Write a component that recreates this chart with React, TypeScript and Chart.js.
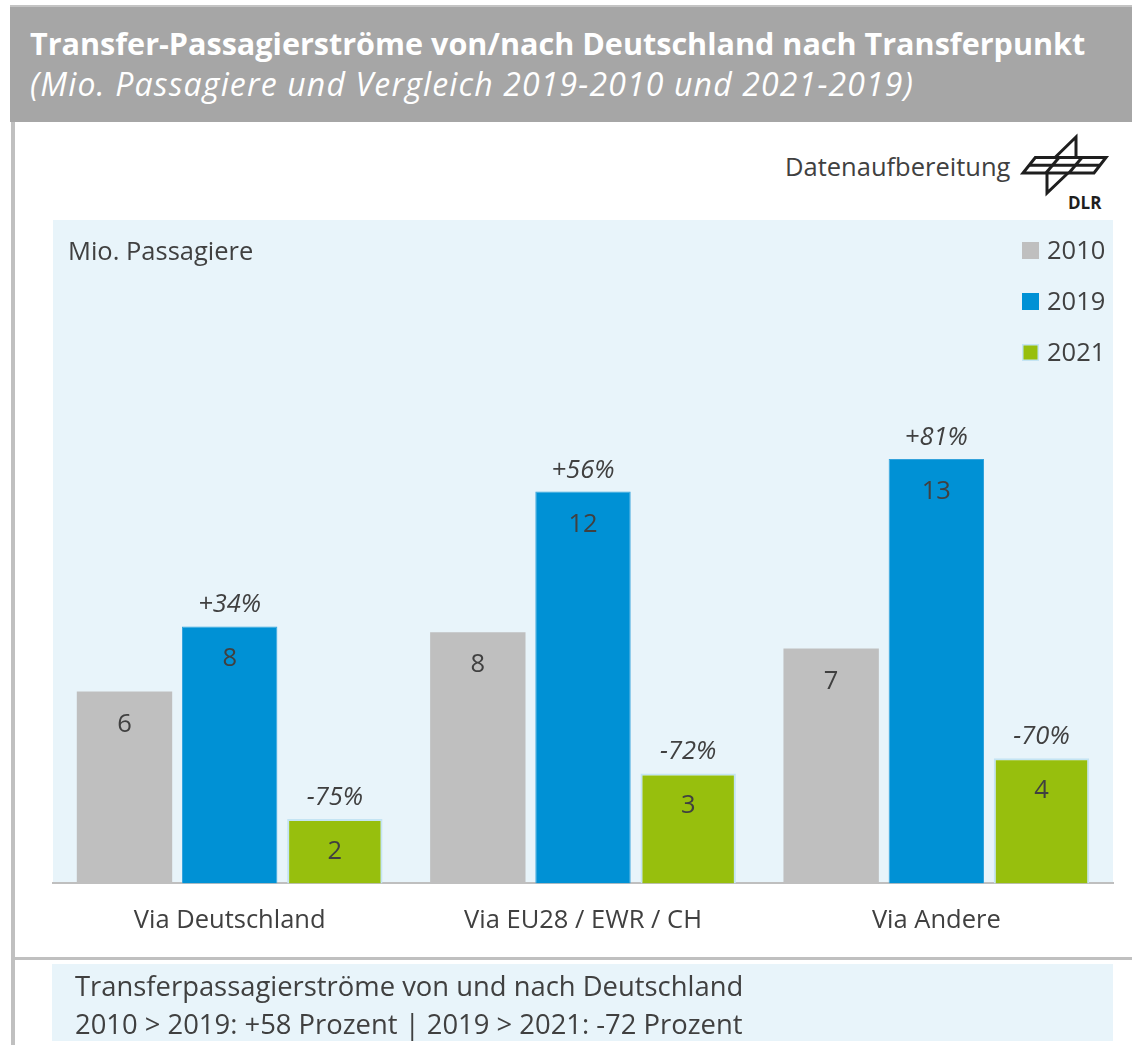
import React, { useEffect, useRef } from "react";
import { Chart, registerables } from "chart.js";

Chart.register(...registerables);

// ---- data ----
const categories = ["Via Deutschland", "Via EU28 / EWR / CH", "Via Andere"];
const seriesLabels = ["2010", "2019", "2021"];
const values2010 = [5.9, 7.72, 7.22];
const values2019 = [7.9, 12.05, 13.05];
const values2021 = [1.98, 3.38, 3.85];
const change2019vs2010 = ["+34%", "+56%", "+81%"];
const change2021vs2019 = ["-75%", "-72%", "-70%"];
const yAxisMax = 20.4;

const titleText = "Transfer-Passagierströme von/nach Deutschland nach Transferpunkt";
const subtitleText = "(Mio. Passagiere und Vergleich 2019-2010 und 2021-2019)";
const sourceText = "Datenaufbereitung";
const unitText = "Mio. Passagiere";
const footerLines = [
  "Transferpassagierströme von und nach Deutschland",
  "2010 > 2019: +58 Prozent | 2019 > 2021: -72 Prozent",
];

// ---- styles ----
const FONT = "'Open Sans', 'DejaVu Sans', sans-serif";
const TEXT = "#404040";
const PLOT_BG = "#E8F4FA";
const COLORS = ["#BFBFBF", "#0091D5", "#97BF0D"];
const BORDERS = ["#BFBFBF", "#33A3DC", "#C4E4F3"];
const BORDER_W = [0, 1, 2];

const decorPlugin = {
  id: "decor",
  beforeDraw(chart: any) {
    const { ctx, chartArea: a } = chart;
    ctx.save();
    ctx.fillStyle = PLOT_BG;
    ctx.fillRect(a.left, a.top, a.right - a.left, a.bottom - a.top);
    ctx.fillStyle = TEXT;
    ctx.font = `25.5px ${FONT}`;
    ctx.textAlign = "left";
    ctx.textBaseline = "alphabetic";
    ctx.fillText(unitText, a.left + 15, a.top + 40);
    chart.data.datasets.forEach((ds: any, i: number) => {
      const base = a.top + 39 + i * 51;
      const sx = a.right - 91;
      ctx.fillStyle = ds.backgroundColor;
      ctx.fillRect(sx, base - 17, 17, 17);
      if (i === 2) {
        ctx.strokeStyle = ds.borderColor;
        ctx.lineWidth = 1.5;
        ctx.strokeRect(sx + 0.75, base - 17 + 0.75, 15.5, 15.5);
      }
      ctx.fillStyle = TEXT;
      ctx.fillText(ds.label, a.right - 66, base);
    });
    ctx.restore();
  },
  afterDatasetsDraw(chart: any) {
    const { ctx } = chart;
    ctx.save();
    ctx.textAlign = "center";
    ctx.textBaseline = "alphabetic";
    ctx.fillStyle = TEXT;
    chart.data.datasets.forEach((ds: any, di: number) => {
      const meta = chart.getDatasetMeta(di);
      meta.data.forEach((bar: any, i: number) => {
        const v = ds.data[i];
        ctx.font = `25.5px ${FONT}`;
        ctx.fillText(String(Math.round(v)), bar.x, bar.y + 40);
        const pct = di === 1 ? change2019vs2010[i] : di === 2 ? change2021vs2019[i] : null;
        if (pct) {
          ctx.font = `italic 25.5px ${FONT}`;
          ctx.fillText(pct, bar.x, bar.y - 14);
        }
      });
    });
    ctx.restore();
  },
};

function Txt(props: {
  x: number;
  baseline: number;
  size: number;
  color?: string;
  bold?: boolean;
  italic?: boolean;
  spacing?: number;
  children: any;
}) {
  const { x, baseline, size, color, bold, italic, spacing, children } = props;
  return (
    <div
      style={{
        position: "absolute",
        left: x,
        top: baseline - 0.888 * size,
        fontSize: size,
        lineHeight: `${size}px`,
        fontWeight: bold ? 700 : 400,
        fontStyle: italic ? "italic" : "normal",
        letterSpacing: spacing ? `${spacing}px` : undefined,
        color: color || TEXT,
        whiteSpace: "nowrap",
        fontFamily: FONT,
      }}
    >
      {children}
    </div>
  );
}

function DlrLogo() {
  return (
    <svg
      width={115}
      height={90}
      style={{ position: "absolute", left: 1005, top: 125 }}
    >
      <g transform="translate(-3,0)">
        <g stroke="#1e1e1e" strokeWidth={3} fill="none" strokeLinejoin="miter">
          <polygon points="33.3,32.5 104,32.5 92,48 21,48" />
          <line x1={27} y1={40.3} x2={98} y2={40.3} />
          <line x1={57} y1={32.5} x2={44} y2={48} />
          <line x1={80} y1={32.5} x2={67} y2={48} />
          <polyline points="53,32.5 74,12 74,32.5" />
          <polyline points="45,48 45,68 66,48" />
        </g>
        <text
          x={66}
          y={83.5}
          fontFamily={FONT}
          fontWeight={700}
          fontSize={17}
          fill="#1e1e1e"
        >
          DLR
        </text>
      </g>
    </svg>
  );
}

export default function App() {
  const canvasRef = useRef<HTMLCanvasElement | null>(null);

  useEffect(() => {
    const canvas = canvasRef.current;
    if (!canvas) return;
    const datasetValues = [values2010, values2019, values2021];
    const chart = new Chart(canvas, {
      type: "bar",
      data: {
        labels: categories,
        datasets: seriesLabels.map((label, i) => ({
          label,
          data: datasetValues[i],
          backgroundColor: COLORS[i],
          borderColor: BORDERS[i],
          borderWidth: BORDER_W[i],
          categoryPercentage: 0.893,
          barPercentage: 0.907,
        })),
      },
      options: {
        responsive: false,
        animation: false,
        devicePixelRatio: 1,
        layout: { padding: { left: 53, right: 19, top: 90, bottom: 0 } },
        plugins: {
          legend: { display: false },
          tooltip: { enabled: false },
          title: { display: false },
        },
        scales: {
          x: {
            grid: { display: false, drawTicks: false },
            border: { display: true, color: "#BFBFBF", width: 2 },
            ticks: {
              color: TEXT,
              padding: 22,
              font: { family: FONT, size: 25.5 },
            },
          },
          y: {
            display: false,
            min: 0,
            max: yAxisMax,
          },
        },
      },
      plugins: [decorPlugin],
    });
    return () => chart.destroy();
  }, []);

  return (
    <div
      style={{
        position: "absolute",
        left: 0,
        top: 0,
        width: 1132,
        height: 1045,
        background: "#ffffff",
        overflow: "hidden",
        fontFamily: FONT,
      }}
    >
      <div style={{ position: "absolute", left: 10, top: 5, width: 1122, height: 117, background: "#A6A6A6" }} />
      <div style={{ position: "absolute", left: 10, top: 5, width: 1122, height: 2, background: "#C4C4C4" }} />
      <div style={{ position: "absolute", left: 11, top: 122, width: 4, height: 923, background: "#C0C0C0" }} />

      <Txt x={30} baseline={55} size={30.55} bold color="#ffffff">{titleText}</Txt>
      <Txt x={30} baseline={96} size={32} italic spacing={1.15} color="#ffffff">{subtitleText}</Txt>
      <Txt x={785} baseline={177} size={25.5}>{sourceText}</Txt>
      <DlrLogo />

      <canvas
        ref={canvasRef}
        width={1132}
        height={828}
        style={{ position: "absolute", left: 0, top: 130, width: 1132, height: 828 }}
      />

      <div style={{ position: "absolute", left: 14, top: 957, width: 1118, height: 3, background: "#C0C0C0" }} />
      <div style={{ position: "absolute", left: 52, top: 964, width: 1061, height: 77, background: PLOT_BG }} />
      <Txt x={75} baseline={996} size={27.4}>{footerLines[0]}</Txt>
      <Txt x={75} baseline={1034} size={27.4}>{footerLines[1]}</Txt>
    </div>
  );
}
